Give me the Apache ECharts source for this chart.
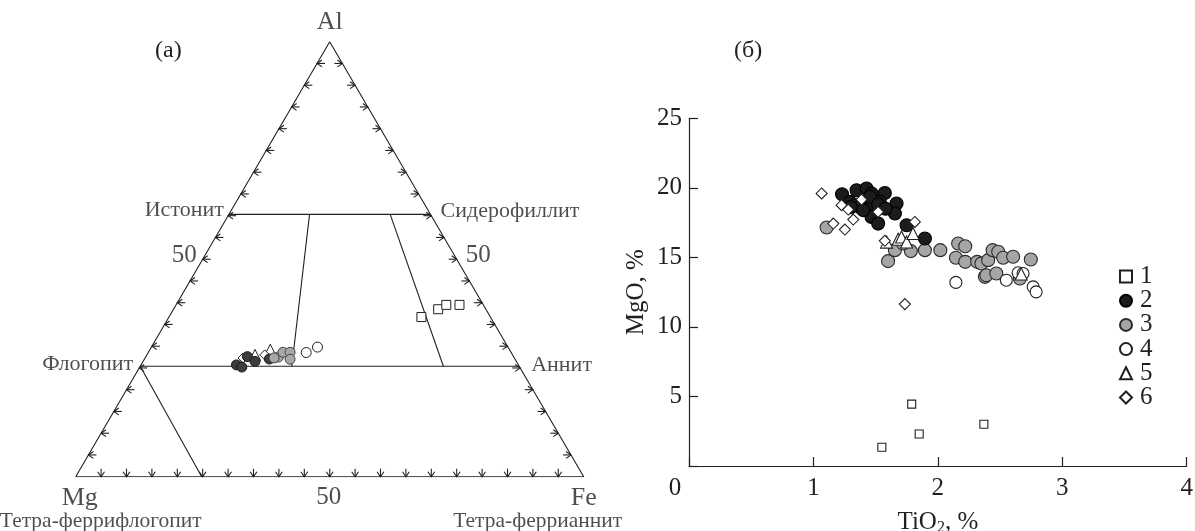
<!DOCTYPE html>
<html><head><meta charset="utf-8">
<script src="https://cdn.jsdelivr.net/npm/echarts@6/dist/echarts.min.js"></script>
<style>html,body{margin:0;padding:0;background:#fff}#c{width:1195px;height:531px}</style>
</head><body><div id="c"></div>
<script>
// ---------- Panel (б): TiO2 (%) vs MgO (%) ----------
const xTicks = [0, 1, 2, 3, 4];
const yTicks = [0, 5, 10, 15, 20, 25];
const seriesNames = ['1', '2', '3', '4', '5', '6'];
const grp1 = [[1.55,1.35],[1.79,4.45],[1.85,2.3],[2.37,3.0]];
const grp2 = [[1.23,19.54],[1.347,19.83],[1.427,19.95],[1.467,19.59],[1.574,19.63],[1.293,18.99],[1.333,18.75],
  [1.454,18.87],[1.534,18.99],[1.668,18.87],[1.655,18.15],[1.467,17.91],[1.52,17.43],[1.749,17.31],[1.896,16.36],
  [1.373,18.63],[1.454,19.35],[1.52,18.82],[1.40,18.4],[1.58,18.5],[1.30,18.6]];
const grp3 = [[1.106,17.15],[1.60,14.73],[1.655,15.52],[1.783,15.45],[1.896,15.52],[2.02,15.52],[2.145,14.97],
  [2.163,16.0],[2.22,15.8],[2.22,14.68],[2.316,14.68],[2.35,14.56],[2.404,14.8],[2.44,15.52],[2.485,15.4],
  [2.525,14.97],[2.605,15.04],[2.747,14.85],[2.378,13.6],[2.39,13.72],[2.47,13.84],[2.659,13.48],[1.72,16.0]];
const grp4 = [[2.145,13.2],[2.55,13.36],[2.645,13.89],[2.685,13.84],[2.766,12.88],[2.79,12.52]];
const grp5 = [[1.588,16.1],[1.681,16.3],[1.708,16.47],[1.749,16.11],[1.80,16.72],[2.67,13.8]];
const grp6 = [[1.066,19.6],[1.226,18.75],[1.16,17.43],[1.253,17.0],[1.32,17.72],[1.28,18.44],[1.387,19.16],
  [1.52,18.27],[1.815,17.55],[1.574,16.19],[1.735,11.64]];

// ---------- Panel (а): ternary Mg–Fe–Al, compositions as [Mg, Fe, Al] % ----------
const tern1 = [[13.6,49.7,36.7],[9.4,52.1,38.5],[7.3,53.2,39.5],[4.7,55.8,39.5]];
const tern2 = [[55.5,18.8,25.7],[54.7,20.1,25.2],[52.4,20.0,27.6],[51.45,22.05,26.5],[48.35,24.6,27.05]];
const tern3 = [[46.35,26.15,27.5],[44.9,26.5,28.6],[43.5,27.9,28.6],[44.3,28.7,27.0],[47.3,25.4,27.3]];
const tern4 = [[40.35,31.1,28.55],[37.5,32.7,29.8]];
const tern5 = [[50.7,21.3,28.0],[47.1,23.7,29.2]];
const tern6 = [[53.4,19.3,27.3],[48.8,23.2,28.0]];

const ternCorners = [[100,0,0],[0,100,0],[0,0,100]];
const ternCornerNames = ['Mg', 'Fe', 'Al'];
const lineEastSid = [[39.7,0,60.3],[0,39.7,60.3]];
const linePhlAnn  = [[74.6,0,25.4],[0,74.6,25.4]];
const linePhlTfp  = [[74.6,0,25.4],[75.2,24.8,0]];
const lineFe40    = [[23.82,15.88,60.3],[44.76,29.84,25.4]];
const lineFe80    = [[7.94,31.76,60.3],[14.92,59.68,25.4]];
const endNames = ['Истонит', 'Сидерофиллит', 'Флогопит', 'Аннит'];
const subNames = ['Тетра-феррифлогопит', 'Тетра-феррианнит'];
const ternTickSteps = [5,10,15,20,25,30,35,40,45,50,55,60,65,70,75,80,85,90,95];
const ternScaleLabel = '50';
const ternScaleAt = [[50,0,50],[0,50,50],[50,50,0]];

// ternary -> cartesian (x = Fe + Al/2, y = Al), fractions
function toXY(c) { const s = c[0] + c[1] + c[2]; const a = c[2] / s, f = c[1] / s; return [f + a / 2, a]; }

const FONT = "'Liberation Serif','Times New Roman',serif";
const INK = '#231f20';

const chart = echarts.init(document.getElementById('c'), null, {renderer: 'canvas'});

function lineSeries(pts) {
  return {type: 'line', xAxisIndex: 0, yAxisIndex: 0, data: pts.map(toXY), symbol: 'none', silent: true,
    lineStyle: {color: INK, width: 1.1}, z: 2, animation: false};
}

// tick items: [x, y, dir] dir 0=left side,1=right side,2=bottom
const tickData = [];
ternTickSteps.forEach(t => {
  tickData.push(toXY([100 - t, 0, t]).concat([0]));
  tickData.push(toXY([0, 100 - t, t]).concat([1]));
  tickData.push(toXY([100 - t, t, 0]).concat([2]));
});

const labelItems = [];
function addLabel(comp, text, lab) {
  labelItems.push({value: toXY(comp), label: Object.assign({show: true, formatter: text, fontFamily: FONT, color: INK,
    position: 'inside', verticalAlign: 'middle'}, lab)});
}
addLabel(ternCorners[0], ternCornerNames[0], {fontSize: 26, align: 'center', offset: [4, 21]});
addLabel(ternCorners[1], ternCornerNames[1], {fontSize: 26, align: 'center', offset: [0, 21]});
addLabel(ternCorners[2], ternCornerNames[2], {fontSize: 26, align: 'center', offset: [0, -20]});
addLabel(ternScaleAt[0], ternScaleLabel, {fontSize: 25, align: 'right', offset: [-6, -4]});
addLabel(ternScaleAt[1], ternScaleLabel, {fontSize: 25, align: 'left', offset: [9, -4]});
addLabel(ternScaleAt[2], ternScaleLabel, {fontSize: 25, align: 'center', offset: [-1, 21]});
addLabel(lineEastSid[0], endNames[0], {fontSize: 22, align: 'right', offset: [-5, -4]});
addLabel(lineEastSid[1], endNames[1], {fontSize: 22, align: 'left', offset: [10, -3]});
addLabel(linePhlAnn[0], endNames[2], {fontSize: 22, align: 'right', offset: [-7, -2]});
addLabel(linePhlAnn[1], endNames[3], {fontSize: 22, align: 'left', offset: [12, -1]});
addLabel(ternCorners[0], subNames[0], {fontSize: 21.5, align: 'center', offset: [25, 45]});
addLabel(ternCorners[1], subNames[1], {fontSize: 21.5, align: 'center', offset: [-46, 45]});

function ternScatter(name, data, sym, size, color, border, z) {
  return {type: 'scatter', name: name, xAxisIndex: 0, yAxisIndex: 0, data: data.map(toXY), symbol: sym, symbolSize: size,
    itemStyle: {color: color, borderColor: border, borderWidth: 1, opacity: 1}, z: z, animation: false};
}
function bScatter(name, data, sym, size, color, border, z) {
  return {type: 'scatter', name: name, xAxisIndex: 1, yAxisIndex: 1, data: data, symbol: sym, symbolSize: size,
    itemStyle: {color: color, borderColor: border, borderWidth: 1.1, opacity: 1}, z: z, animation: false};
}

const option = {
  backgroundColor: '#fff',
  animation: false,
  textStyle: {fontFamily: FONT},
  grid: [
    {left: 75.7, top: 41.7, width: 508, height: 435, containLabel: false, outerBoundsMode: 'none'},
    {left: 689, top: 118.3, width: 497.7, height: 347.7, containLabel: false, outerBoundsMode: 'none'}
  ],
  xAxis: [
    {gridIndex: 0, type: 'value', min: 0, max: 1, show: false},
    {gridIndex: 1, type: 'value', min: xTicks[0], max: xTicks[xTicks.length - 1], interval: 1,
      axisLine: {show: true, onZero: false, lineStyle: {color: INK, width: 1.2}},
      axisTick: {show: true, inside: true, length: 9, lineStyle: {color: INK, width: 1.2}},
      splitLine: {show: false},
      axisLabel: {fontFamily: FONT, fontSize: 25, color: INK, margin: 10,
        formatter: v => v === 0 ? '{z|0}' : String(v),
        rich: {z: {fontFamily: FONT, fontSize: 25, color: INK, padding: [0, 28, 0, 0]}}},
      name: '{a|TiO}{s|2}{a|, %}', nameLocation: 'middle', nameGap: 42,
      nameTextStyle: {rich: {a: {fontFamily: FONT, fontSize: 25, color: INK},
        s: {fontFamily: FONT, fontSize: 16, color: INK, verticalAlign: 'bottom', padding: [12, 0, 0, 0]}}}
    }
  ],
  yAxis: [
    {gridIndex: 0, type: 'value', min: 0, max: 1, show: false},
    {gridIndex: 1, type: 'value', min: yTicks[0], max: yTicks[yTicks.length - 1], interval: 5,
      axisLine: {show: true, onZero: false, lineStyle: {color: INK, width: 1.2}},
      axisTick: {show: true, inside: true, length: 9, lineStyle: {color: INK, width: 1.2}},
      splitLine: {show: false},
      axisLabel: {fontFamily: FONT, fontSize: 25, color: INK, margin: 7, formatter: v => v === 0 ? '' : String(v)},
      name: 'MgO, %', nameLocation: 'middle', nameGap: 40, nameRotate: 90,
      nameTextStyle: {fontFamily: FONT, fontSize: 25, color: INK}
    }
  ],
  legend: {
    data: seriesNames, orient: 'vertical', left: 1119, top: 264, padding: 0, itemWidth: 12, itemHeight: 12, itemGap: -0.8,
    textStyle: {fontFamily: FONT, fontSize: 25, color: INK, padding: [0, 0, 0, 3]},
    selectedMode: false
  },
  graphic: [
    {type: 'text', left: 155, top: 39, style: {text: '(а)', font: '24px ' + FONT, fill: INK}},
    {type: 'text', left: 734, top: 39, style: {text: '(б)', font: '24px ' + FONT, fill: INK}}
  ],
  series: [
    lineSeries([ternCorners[0], ternCorners[1], ternCorners[2], ternCorners[0]]),
    lineSeries(lineEastSid), lineSeries(linePhlAnn), lineSeries(linePhlTfp), lineSeries(lineFe40), lineSeries(lineFe80),
    {type: 'custom', xAxisIndex: 0, yAxisIndex: 0, data: tickData, silent: true, z: 3, animation: false,
      renderItem: function (params, api) {
        const p = api.coord([api.value(0), api.value(1)]);
        const d = api.value(2);
        const back = [[1, 0], [-1, 0], [0, -1]][d];
        const perp = [-back[1], back[0]];
        const h = 5, w = 3.4, L = 8;
        return {type: 'group', children: [
          {type: 'polyline', shape: {points: [
            [p[0] + back[0] * h + perp[0] * w, p[1] + back[1] * h + perp[1] * w],
            [p[0], p[1]],
            [p[0] + back[0] * h - perp[0] * w, p[1] + back[1] * h - perp[1] * w]]},
            style: {stroke: INK, fill: null, lineWidth: 1.1}},
          {type: 'line', shape: {x1: p[0], y1: p[1], x2: p[0] + back[0] * L, y2: p[1] + back[1] * L},
            style: {stroke: INK, lineWidth: 1.1}}
        ]};
      }},
    {type: 'scatter', xAxisIndex: 0, yAxisIndex: 0, data: labelItems, symbolSize: 0, silent: true, z: 5, animation: false},
    ternScatter('t5', tern5, 'triangle', 11, '#fff', INK, 6),
    ternScatter('t6', tern6, 'diamond', 10, '#fff', INK, 6),
    ternScatter('t2', tern2, 'circle', 10, '#3c3c3c', '#1a1a1a', 7),
    ternScatter('t3', tern3, 'circle', 10, '#a8a8a8', '#444', 7),
    ternScatter('t4', tern4, 'circle', 10, '#fff', INK, 7),
    ternScatter('t1', tern1, 'rect', 9, '#fff', INK, 7),
    bScatter(seriesNames[0], grp1, 'rect', 8, '#fff', INK, 10),
    bScatter(seriesNames[1], grp2, 'circle', 13, '#1c1c1c', '#000', 8),
    bScatter(seriesNames[2], grp3, 'circle', 13, '#a5a5a5', '#2a2a2a', 7),
    bScatter(seriesNames[3], grp4, 'circle', 12, '#fff', INK, 7),
    bScatter(seriesNames[4], grp5, 'triangle', 12, '#fff', INK, 9),
    bScatter(seriesNames[5], grp6, 'diamond', 11, '#fff', INK, 9)
  ]
};
chart.setOption(option);
</script>
</body></html>
